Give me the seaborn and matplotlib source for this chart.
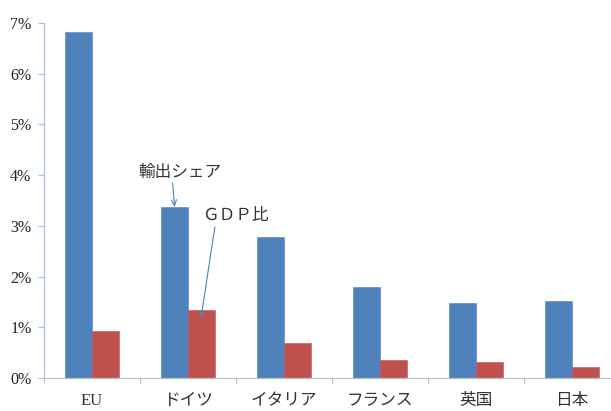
import matplotlib
matplotlib.use("Agg")
import matplotlib.pyplot as plt
import seaborn as sns
import pandas as pd

categories = ["EU", "ドイツ", "イタリア", "フランス", "英国", "日本"]
series_names = ["輸出シェア", "GDP比"]
export_share = [6.82, 3.37, 2.78, 1.79, 1.47, 1.52]
gdp_ratio = [0.92, 1.34, 0.69, 0.36, 0.32, 0.21]
y_ticks = [0, 1, 2, 3, 4, 5, 6, 7]

df = pd.DataFrame({
    "category": categories * 2,
    "series": [series_names[0]] * len(categories) + [series_names[1]] * len(categories),
    "value": export_share + gdp_ratio,
})

sns.set_theme(style="white")
plt.rcParams["font.family"] = ["Liberation Serif", "Noto Sans CJK JP", "DejaVu Sans"]

fig = plt.figure(figsize=(6.11, 4.11), dpi=100)
ax = fig.add_axes([44 / 611, 33 / 411, 576 / 611, 355 / 411])

sns.barplot(data=df, x="category", y="value", hue="series",
            palette=["#4F81BD", "#C0504D"], saturation=1, width=0.56, gap=0,
            edgecolor="none", legend=False, ax=ax)
for p in ax.patches:
    p.set_edgecolor(matplotlib.colors.to_rgba(p.get_facecolor(), 1))
    p.set_linewidth(0.4)

ax.set_xlim(-0.5, len(categories) - 0.5)
ax.set_ylim(0, 7)
ax.set_yticks(y_ticks)
ax.set_yticklabels([f"{t}%" for t in y_ticks], fontsize=11.5, color="#222222")
ax.set_xticks(range(len(categories)))
ax.set_xticklabels(categories, fontsize=12, color="#333333")
ax.set_xlabel("")
ax.set_ylabel("")

# category separator ticks
ax.set_xticks([i - 0.5 for i in range(len(categories) + 1)], minor=True)
ax.tick_params(axis="x", which="major", length=0, pad=11)
ax.tick_params(axis="x", which="minor", length=4, color="#BFBFBF", width=0.8, direction="out")
ax.tick_params(axis="y", which="major", length=4, color="#A7BEDC", width=0.8, direction="out", pad=5)
ax.yaxis.set_ticks_position("left")
ax.xaxis.set_ticks_position("bottom")

for s in ["top", "right"]:
    ax.spines[s].set_visible(False)
ax.spines["left"].set_color("#A7BEDC")
ax.spines["left"].set_linewidth(0.9)
ax.spines["bottom"].set_color("#BFBFBF")
ax.spines["bottom"].set_linewidth(0.9)

# annotations
ax.text(0.92, 4.05, "輸出シェア", fontsize=12, color="#333333",
        ha="center", va="center", family=["Noto Sans CJK JP"])
ax.annotate("", xy=(1 - 0.14, export_share[1]), xytext=(0.84, 3.85),
            arrowprops=dict(arrowstyle="->,head_length=0.35,head_width=0.15",
                            color="#4F81BD", lw=0.8, shrinkA=0, shrinkB=0))
ax.text(1.49, 3.21, "ＧＤＰ比", fontsize=12, color="#333333",
        ha="center", va="center", family=["Noto Sans CJK JP"])
ax.annotate("", xy=(1.135, 1.18), xytext=(1.28, 2.98),
            arrowprops=dict(arrowstyle="->,head_length=0.35,head_width=0.15",
                            color="#4F81BD", lw=0.8, shrinkA=0, shrinkB=0))

fig.savefig("out.png", dpi=100)
